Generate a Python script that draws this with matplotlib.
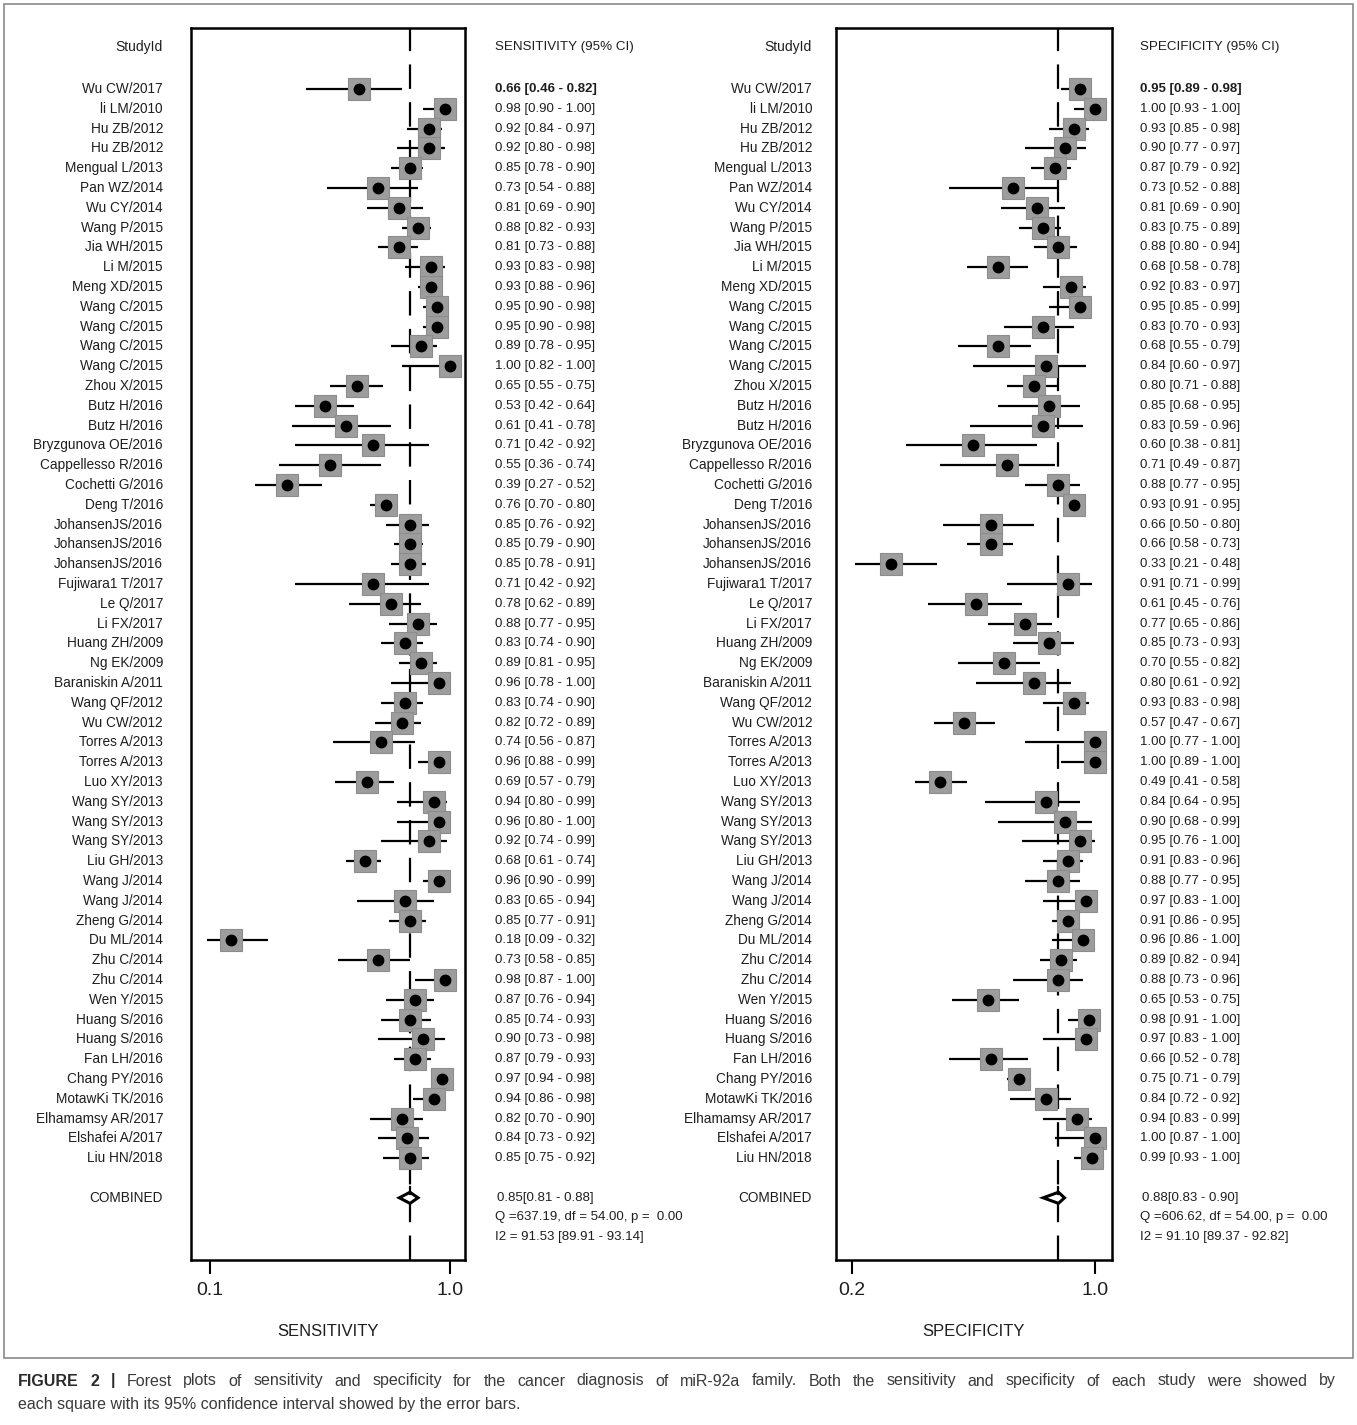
import matplotlib
matplotlib.use('Agg')
import matplotlib.pyplot as plt
from matplotlib import transforms
from matplotlib.patches import Rectangle, Polygon

W, H = 1357, 1425
NARROW = ['Liberation Sans Narrow', 'Liberation Sans', 'DejaVu Sans']
INK = '#1e1e1e'

studies = ['Wu CW/2017', 'li LM/2010', 'Hu ZB/2012', 'Hu ZB/2012', 'Mengual L/2013',
           'Pan WZ/2014', 'Wu CY/2014', 'Wang P/2015', 'Jia WH/2015', 'Li M/2015',
           'Meng XD/2015', 'Wang C/2015', 'Wang C/2015', 'Wang C/2015', 'Wang C/2015',
           'Zhou X/2015', 'Butz H/2016', 'Butz H/2016', 'Bryzgunova OE/2016',
           'Cappellesso R/2016', 'Cochetti G/2016', 'Deng T/2016', 'JohansenJS/2016',
           'JohansenJS/2016', 'JohansenJS/2016', 'Fujiwara1 T/2017', 'Le Q/2017',
           'Li FX/2017', 'Huang ZH/2009', 'Ng EK/2009', 'Baraniskin A/2011',
           'Wang QF/2012', 'Wu CW/2012', 'Torres A/2013', 'Torres A/2013', 'Luo XY/2013',
           'Wang SY/2013', 'Wang SY/2013', 'Wang SY/2013', 'Liu GH/2013', 'Wang J/2014',
           'Wang J/2014', 'Zheng G/2014', 'Du ML/2014', 'Zhu C/2014', 'Zhu C/2014',
           'Wen Y/2015', 'Huang S/2016', 'Huang S/2016', 'Fan LH/2016', 'Chang PY/2016',
           'MotawKi TK/2016', 'Elhamamsy AR/2017', 'Elshafei A/2017', 'Liu HN/2018']

sens = [0.66, 0.98, 0.92, 0.92, 0.85, 0.73, 0.81, 0.88, 0.81, 0.93, 0.93, 0.95, 0.95, 0.89,
        1.00, 0.65, 0.53, 0.61, 0.71, 0.55, 0.39, 0.76, 0.85, 0.85, 0.85, 0.71, 0.78, 0.88,
        0.83, 0.89, 0.96, 0.83, 0.82, 0.74, 0.96, 0.69, 0.94, 0.96, 0.92, 0.68, 0.96, 0.83,
        0.85, 0.18, 0.73, 0.98, 0.87, 0.85, 0.90, 0.87, 0.97, 0.94, 0.82, 0.84, 0.85]
sens_lo = [0.46, 0.90, 0.84, 0.80, 0.78, 0.54, 0.69, 0.82, 0.73, 0.83, 0.88, 0.90, 0.90, 0.78,
           0.82, 0.55, 0.42, 0.41, 0.42, 0.36, 0.27, 0.70, 0.76, 0.79, 0.78, 0.42, 0.62, 0.77,
           0.74, 0.81, 0.78, 0.74, 0.72, 0.56, 0.88, 0.57, 0.80, 0.80, 0.74, 0.61, 0.90, 0.65,
           0.77, 0.09, 0.58, 0.87, 0.76, 0.74, 0.73, 0.79, 0.94, 0.86, 0.70, 0.73, 0.75]
sens_hi = [0.82, 1.00, 0.97, 0.98, 0.90, 0.88, 0.90, 0.93, 0.88, 0.98, 0.96, 0.98, 0.98, 0.95,
           1.00, 0.75, 0.64, 0.78, 0.92, 0.74, 0.52, 0.80, 0.92, 0.90, 0.91, 0.92, 0.89, 0.95,
           0.90, 0.95, 1.00, 0.90, 0.89, 0.87, 0.99, 0.79, 0.99, 1.00, 0.99, 0.74, 0.99, 0.94,
           0.91, 0.32, 0.85, 1.00, 0.94, 0.93, 0.98, 0.93, 0.98, 0.98, 0.90, 0.92, 0.92]

spec = [0.95, 1.00, 0.93, 0.90, 0.87, 0.73, 0.81, 0.83, 0.88, 0.68, 0.92, 0.95, 0.83, 0.68,
        0.84, 0.80, 0.85, 0.83, 0.60, 0.71, 0.88, 0.93, 0.66, 0.66, 0.33, 0.91, 0.61, 0.77,
        0.85, 0.70, 0.80, 0.93, 0.57, 1.00, 1.00, 0.49, 0.84, 0.90, 0.95, 0.91, 0.88, 0.97,
        0.91, 0.96, 0.89, 0.88, 0.65, 0.98, 0.97, 0.66, 0.75, 0.84, 0.94, 1.00, 0.99]
spec_lo = [0.89, 0.93, 0.85, 0.77, 0.79, 0.52, 0.69, 0.75, 0.80, 0.58, 0.83, 0.85, 0.70, 0.55,
           0.60, 0.71, 0.68, 0.59, 0.38, 0.49, 0.77, 0.91, 0.50, 0.58, 0.21, 0.71, 0.45, 0.65,
           0.73, 0.55, 0.61, 0.83, 0.47, 0.77, 0.89, 0.41, 0.64, 0.68, 0.76, 0.83, 0.77, 0.83,
           0.86, 0.86, 0.82, 0.73, 0.53, 0.91, 0.83, 0.52, 0.71, 0.72, 0.83, 0.87, 0.93]
spec_hi = [0.98, 1.00, 0.98, 0.97, 0.92, 0.88, 0.90, 0.89, 0.94, 0.78, 0.97, 0.99, 0.93, 0.79,
           0.97, 0.88, 0.95, 0.96, 0.81, 0.87, 0.95, 0.95, 0.80, 0.73, 0.48, 0.99, 0.76, 0.86,
           0.93, 0.82, 0.92, 0.98, 0.67, 1.00, 1.00, 0.58, 0.95, 0.99, 1.00, 0.96, 0.95, 1.00,
           0.95, 1.00, 0.94, 0.96, 0.75, 1.00, 1.00, 0.78, 0.79, 0.92, 0.99, 1.00, 1.00]

sens_pooled = (0.85, 0.81, 0.88)
spec_pooled = (0.88, 0.83, 0.90)
sens_stats = ['Q =637.19, df = 54.00, p =  0.00', 'I2 = 91.53 [89.91 - 93.14]']
spec_stats = ['Q =606.62, df = 54.00, p =  0.00', 'I2 = 91.10 [89.37 - 92.82]']

caption_1 = ('FIGURE 2 | Forest plots of sensitivity and specificity for the cancer diagnosis of '
             'miR-92a family. Both the sensitivity and specificity of each study were showed by')
caption_2 = 'each square with its 95% confidence interval showed by the error bars.'

fig = plt.figure(figsize=(W / 100, H / 100), dpi=100)


def fx(px):
    return px / W


def fy(py):
    return 1 - py / H


# pixel layout: rows start at y=89 and are 19.8 px apart
ROW0, ROWH = 89.0, 19.8
BOX_TOP, BOX_BOT = 28, 1260


def row(py):
    return (py - ROW0) / ROWH


def panel(box_x, xlim, ticks, est, lo, hi, pooled, stats, name, lab_x, val_x):
    ax = fig.add_axes([fx(box_x[0]), fy(BOX_BOT), fx(box_x[1] - box_x[0]),
                       (BOX_BOT - BOX_TOP) / H])
    ax.set_xlim(*xlim)
    ax.set_ylim(row(BOX_BOT), row(BOX_TOP))
    ax.set_yticks([])
    ax.set_xticks(ticks)
    ax.set_xticklabels(['%.1f' % t for t in ticks], family=NARROW, fontsize=14, color=INK)
    ax.tick_params(axis='x', direction='out', length=10, width=1.5, pad=6)
    for s in ax.spines.values():
        s.set_linewidth(1.8)

    tr = transforms.blended_transform_factory(fig.transFigure, ax.transData)

    # pooled estimate reference line
    ax.axvline(pooled[0], color='k', lw=1.6, dashes=(11, 6), zorder=2)

    for i in range(len(est)):
        ax.plot([lo[i], hi[i]], [i, i], color='k', lw=1.6, solid_capstyle='butt', zorder=3)
        ax.plot(est[i], i, marker='s', ms=15.5, mfc='#9d9d9d', mec='#8c8c8c', mew=0.8, zorder=4)
        ax.plot(est[i], i, marker='o', ms=7.5, color='k', zorder=5)
        fw = 'bold' if i == 0 else 'normal'
        fig.text(fx(lab_x), i, studies[i], transform=tr, ha='right', va='center',
                 family=NARROW, fontsize=9.8, color=INK)
        fig.text(fx(val_x), i, '%.2f [%.2f - %.2f]' % (est[i], lo[i], hi[i]), transform=tr,
                 ha='left', va='center', family=NARROW, fontsize=9.5, color=INK,
                 fontweight=fw)

    # combined diamond
    yc = len(est) + 1
    e, l, h = pooled
    ax.add_patch(Polygon([(l, yc), (e, yc - 0.28), (h, yc), (e, yc + 0.28)], closed=True,
                         fc='white', ec='k', lw=2.2, zorder=5))
    ax.plot([e, e], [yc - 0.55, yc - 0.2], color='k', lw=1.6, zorder=5)
    fig.text(fx(lab_x), yc, 'COMBINED', transform=tr, ha='right', va='center',
             family=NARROW, fontsize=9.8, color=INK)
    fig.text(fx(val_x + 2), yc, '%.2f[%.2f - %.2f]' % pooled, transform=tr, ha='left',
             va='center', family=NARROW, fontsize=9.5, color=INK)
    fig.text(fx(val_x), row(1217), stats[0], transform=tr, ha='left', va='center',
             family=NARROW, fontsize=9.5, color=INK)
    fig.text(fx(val_x), row(1237), stats[1], transform=tr, ha='left', va='center',
             family=NARROW, fontsize=9.5, color=INK)

    # column headers
    fig.text(fx(lab_x), row(47), 'StudyId', transform=tr, ha='right', va='center',
             family=NARROW, fontsize=10, color=INK)
    fig.text(fx(val_x), row(47), name + ' (95% CI)', transform=tr, ha='left', va='center',
             family=NARROW, fontsize=9.6, color=INK)
    fig.text(fx((box_x[0] + box_x[1]) / 2), fy(1331), name, ha='center', va='center',
             family=NARROW, fontsize=12, color=INK)
    return ax


panel((191, 465), (0.030, 1.056), [0.1, 1.0], sens, sens_lo, sens_hi, sens_pooled,
      sens_stats, 'SENSITIVITY', 163, 495)
panel((836, 1112), (0.149, 1.056), [0.2, 1.0], spec, spec_lo, spec_hi, spec_pooled,
      spec_stats, 'SPECIFICITY', 812, 1140)

# frame round the figure panel
fig.add_artist(Rectangle((fx(4), fy(1358)), fx(1349), (1358 - 4) / H, transform=fig.transFigure,
                         fill=False, ec='#8a8a8a', lw=1.2))

# caption: first line justified word by word between the margins
cap_font = ['Liberation Sans', 'DejaVu Sans']
cap_size = 11.5
left, right = 18, 1336
words = caption_1.split(' ')
renderer = fig.canvas.get_renderer()
items = []
for k, w in enumerate(words):
    bold = k < 3
    t = fig.text(0, fy(1381), w, ha='left', va='center', family=cap_font, fontsize=cap_size,
                 fontweight='bold' if bold else 'normal',
                 color='#2b2b2b' if bold else '#3a3a3a')
    items.append((t, t.get_window_extent(renderer).width))
gap = (right - left - sum(wd for _, wd in items)) / (len(items) - 1)
x = left
for t, wd in items:
    t.set_x(fx(x))
    x += wd + gap
fig.text(fx(left), fy(1404), caption_2, ha='left', va='center', family=cap_font,
         fontsize=cap_size, color='#3a3a3a')

fig.savefig('out.png', dpi=100)
